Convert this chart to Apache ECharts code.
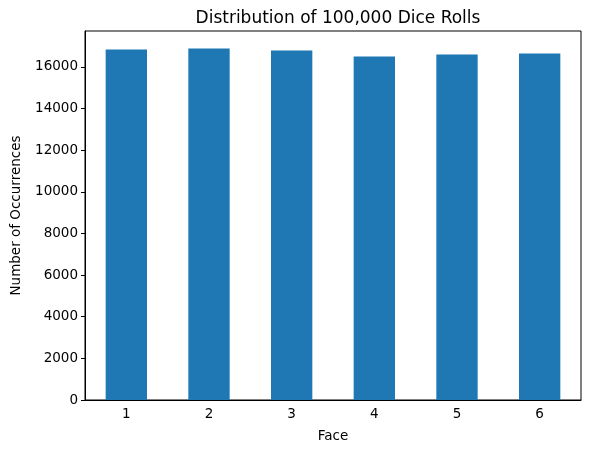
<!DOCTYPE html>
<html><head><meta charset="utf-8">
<script src="https://cdn.jsdelivr.net/npm/echarts@6/dist/echarts.min.js"></script>
<style>html,body{margin:0;padding:0;background:#fff}#c{width:590px;height:453px}</style>
</head><body><div id="c"></div>
<script>
const categories = ['1','2','3','4','5','6'];
const counts = [16829, 16877, 16781, 16494, 16589, 16637];
const chart = echarts.init(document.getElementById('c'));
const font = 'DejaVu Sans';
chart.setOption({
  animation:false,
  title:{text:'Distribution of 100,000 Dice Rolls',left:333,top:5,textAlign:'center',
    textStyle:{fontFamily:font,fontSize:17,fontWeight:'normal',color:'#000'}},
  grid:{left:85,right:9,top:31,bottom:53,show:true,borderColor:'#000',borderWidth:1,backgroundColor:'transparent'},
  xAxis:{type:'category',data:categories,name:'Face',nameLocation:'middle',nameGap:29,
    nameTextStyle:{fontFamily:font,fontSize:13.5,color:'#000'},
    axisLine:{lineStyle:{color:'#000',width:1}},
    axisTick:{alignWithLabel:true,length:4,lineStyle:{color:'#000'}},
    axisLabel:{fontFamily:font,fontSize:13.5,color:'#000',margin:7},
    splitLine:{show:false}},
  yAxis:{type:'value',min:0,max:17720,interval:2000,name:'Number of Occurrences',nameLocation:'middle',nameGap:62,
    nameTextStyle:{fontFamily:font,fontSize:13.5,color:'#000'},
    axisLine:{show:true,lineStyle:{color:'#000',width:1}},
    axisTick:{show:true,length:4,lineStyle:{color:'#000'}},
    axisLabel:{fontFamily:font,fontSize:13.5,color:'#000',margin:7,showMaxLabel:false,formatter:v=>String(v)},
    splitLine:{show:false}},
  series:[{type:'bar',data:counts,barWidth:'50%',itemStyle:{color:'#1f77b4'}}]
});
</script></body></html>
